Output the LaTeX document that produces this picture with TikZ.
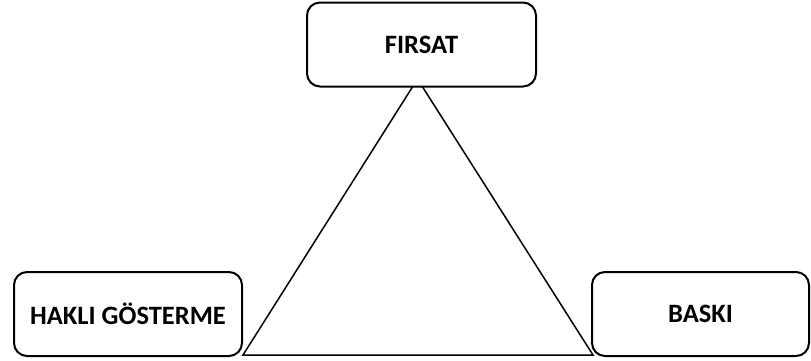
\documentclass[tikz,border=0pt]{standalone}
\usepackage{fontspec}
\setmainfont{Carlito}
\usetikzlibrary{positioning}
\tikzset{
  kutu/.style = {align=center, inner sep=0pt, text centered,
    font=\fontsize{26.5}{30}\selectfont\bfseries, draw=black, fill=white,
    rounded corners=13pt, line width=2pt, minimum height=84pt},% kutu
  kenar/.style = {line width=1.5pt, line join=miter}% ucgen kenari
}

\begin{document}
\begin{tikzpicture}[x=1pt,y=-1pt]
\useasboundingbox (0,0) rectangle (811,360);
\coordinate (tepe) at (417.5,79);
\coordinate (sol) at (243,355);
\coordinate (sag) at (593,355);
\draw [kenar] (sol) -- (tepe) -- (sag) -- cycle;
\node [kutu, minimum width=229pt] (firsat) at (421.5,44.5) {FIRSAT};
\node [kutu, minimum width=228pt] (hakli) at (128,314) {HAKLI GÖSTERME};
\node [kutu, minimum width=217pt] (baski) at (700.5,314) {BASKI};
\end{tikzpicture}
\end{document}
